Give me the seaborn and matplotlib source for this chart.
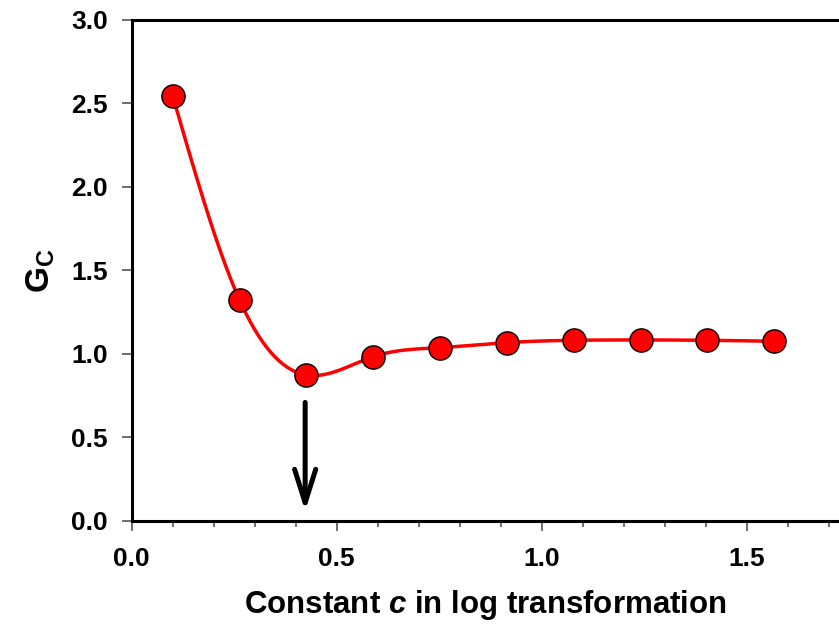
import numpy as np
import pandas as pd
import matplotlib
matplotlib.use("Agg")
import matplotlib.pyplot as plt
import seaborn as sns

# data
c_values = [0.100, 0.263, 0.426, 0.589, 0.752, 0.915, 1.078, 1.241, 1.404, 1.567]
gc_values = [2.545, 1.323, 0.874, 0.984, 1.038, 1.068, 1.082, 1.084, 1.082, 1.076]
x_ticks = [0.0, 0.5, 1.0, 1.5]
y_ticks = [0.0, 0.5, 1.0, 1.5, 2.0, 2.5, 3.0]
arrow_x = 0.423
arrow_y_start = 0.71
arrow_y_end = 0.06


def natural_spline(x, y, xs):
    x = np.asarray(x, float); y = np.asarray(y, float)
    n = len(x)
    h = np.diff(x)
    A = np.zeros((n, n)); b = np.zeros(n)
    A[0, 0] = 1; A[-1, -1] = 1
    for i in range(1, n - 1):
        A[i, i - 1] = h[i - 1]
        A[i, i] = 2 * (h[i - 1] + h[i])
        A[i, i + 1] = h[i]
        b[i] = 6 * ((y[i + 1] - y[i]) / h[i] - (y[i] - y[i - 1]) / h[i - 1])
    M = np.linalg.solve(A, b)
    out = np.empty_like(xs)
    for k, xv in enumerate(xs):
        i = min(max(np.searchsorted(x, xv) - 1, 0), n - 2)
        t1 = x[i + 1] - xv; t0 = xv - x[i]
        out[k] = (M[i] * t1 ** 3 / (6 * h[i]) + M[i + 1] * t0 ** 3 / (6 * h[i])
                  + (y[i] / h[i] - M[i] * h[i] / 6) * t1
                  + (y[i + 1] / h[i] - M[i + 1] * h[i] / 6) * t0)
    return out


sns.set_style("ticks")
plt.rcParams['font.family'] = ['Liberation Sans', 'DejaVu Sans']
plt.rcParams['font.weight'] = 'bold'
plt.rcParams['text.color'] = 'black'
plt.rcParams['axes.labelcolor'] = 'black'
plt.rcParams['xtick.labelcolor'] = 'black'
plt.rcParams['ytick.labelcolor'] = 'black'
plt.rcParams['mathtext.fontset'] = 'custom'
plt.rcParams['mathtext.it'] = 'Liberation Sans:bold:italic'
plt.rcParams['mathtext.rm'] = 'Liberation Sans:bold'
plt.rcParams['mathtext.bf'] = 'Liberation Sans:bold'

fig = plt.figure(figsize=(8.39, 6.28), dpi=100)
ax = fig.add_axes([0.157, 0.1704, 0.843, 0.7978])

xs = np.linspace(c_values[0], c_values[-1], 400)
curve = pd.DataFrame({"c": xs, "g": natural_spline(c_values, gc_values, xs)})
pts = pd.DataFrame({"c": c_values, "g": gc_values})

sns.lineplot(data=curve, x="c", y="g", ax=ax, color="#ff0000", linewidth=2.5, zorder=2)
sns.scatterplot(data=pts, x="c", y="g", ax=ax, color="#ff0000", edgecolor="black",
                linewidth=1.0, s=280, zorder=3)

ax.annotate("", xy=(arrow_x, arrow_y_end), xytext=(arrow_x, arrow_y_start),
            arrowprops=dict(arrowstyle="->,head_length=1.2,head_width=0.38",
                            mutation_scale=20, color="black", lw=3.6,
                            shrinkA=0, shrinkB=0))

ax.set_xlim(0, 1.725)
ax.set_ylim(0, 3.0)
ax.set_xticks(x_ticks)
ax.set_xticklabels([f"{v:.1f}" for v in x_ticks])
ax.set_yticks(y_ticks)
ax.set_yticklabels([f"{v:.1f}" for v in y_ticks])
ax.set_xticks(np.arange(0, 1.75, 0.1), minor=True)

for s in ["left", "bottom", "top"]:
    ax.spines[s].set_linewidth(2.2)
    ax.spines[s].set_color("black")
ax.spines["right"].set_visible(False)

ax.tick_params(axis="both", which="major", length=7, width=1.2, color="#555555",
               labelsize=19)
ax.tick_params(axis="y", which="major", pad=10)
ax.tick_params(axis="x", which="major", pad=12)
ax.tick_params(axis="x", which="minor", length=4, width=1.2, color="#555555")
for lab in ax.get_xticklabels() + ax.get_yticklabels():
    lab.set_fontweight("bold")

ax.set_xlabel("Constant $c$ in log transformation", fontsize=22.5, fontweight="bold", labelpad=12)
ax.set_ylabel(r"$\mathrm{G}_\mathrm{C}$", fontsize=24, labelpad=10)

fig.savefig("out.png", dpi=100)
